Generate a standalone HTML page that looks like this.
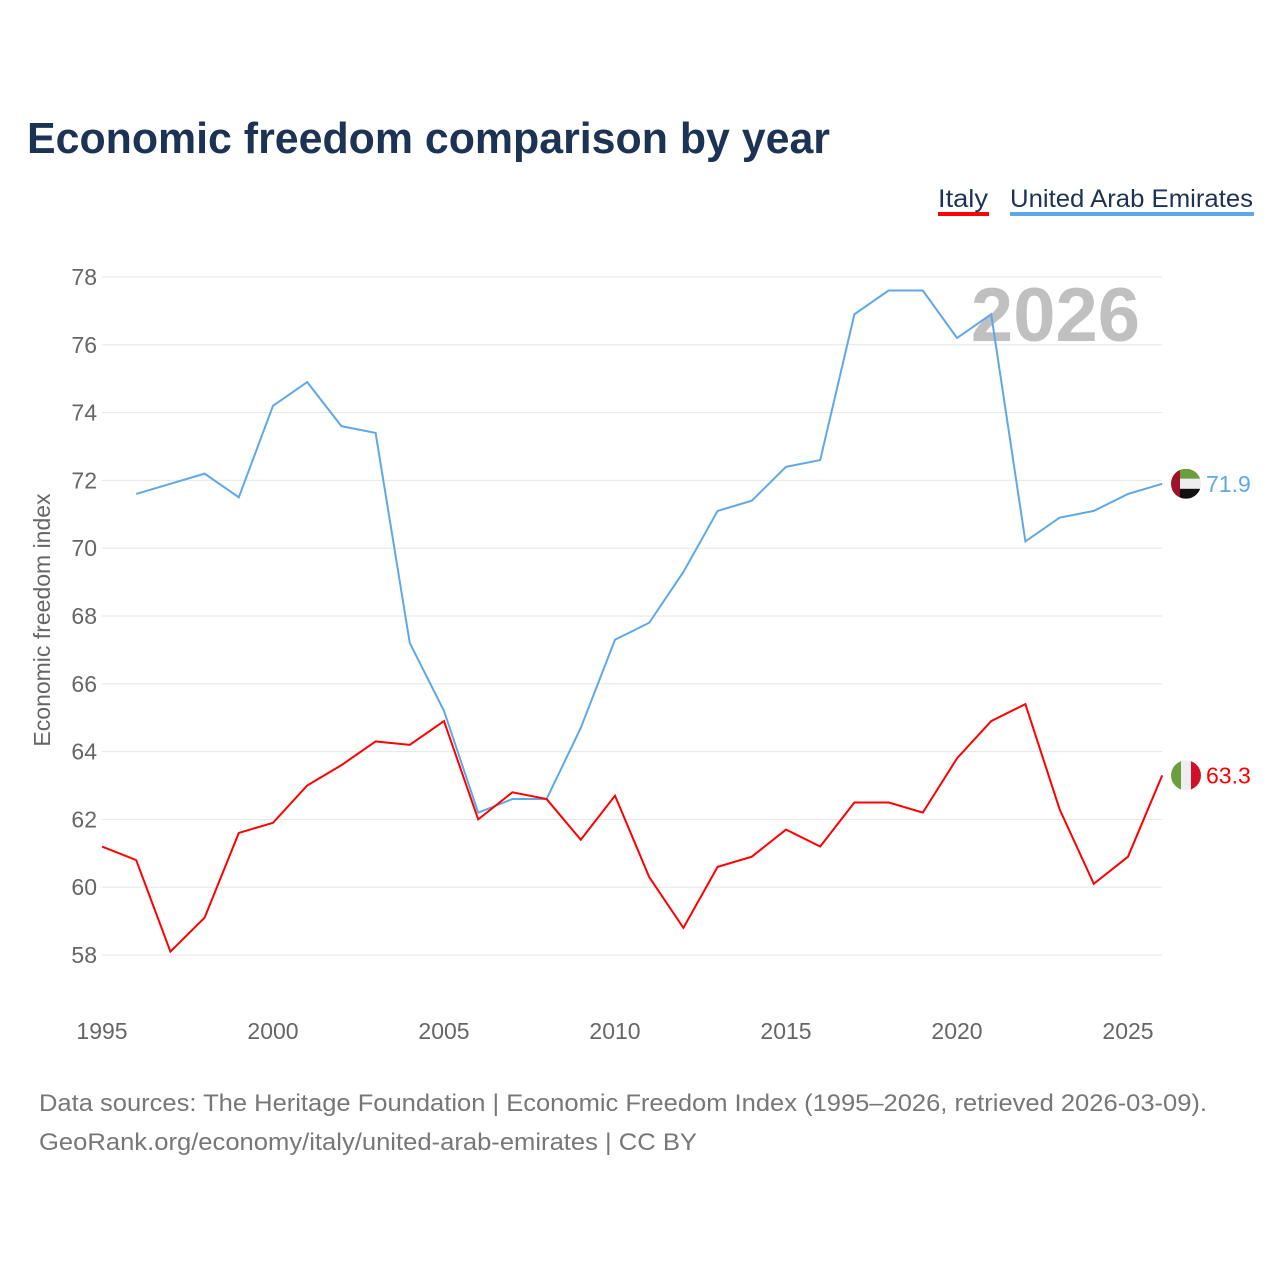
<!DOCTYPE html>
<html><head><meta charset="utf-8"><style>
body{margin:0;background:#fff;width:1280px;height:1280px;overflow:hidden;font-family:"Liberation Sans",sans-serif}
</style></head><body>
<svg id="chart" width="1280" height="1280" xmlns="http://www.w3.org/2000/svg">
<text x="27" y="153" font-size="44" font-weight="bold" fill="#1d3354" textLength="803" lengthAdjust="spacingAndGlyphs">Economic freedom comparison by year</text>
<g><text x="938" y="207" font-size="25" fill="#1d3354" textLength="50" lengthAdjust="spacingAndGlyphs">Italy</text><rect x="938" y="212" width="51" height="4" fill="#f00"/></g>
<g><text x="1010" y="207" font-size="25" fill="#1d3354" textLength="243" lengthAdjust="spacingAndGlyphs">United Arab Emirates</text><rect x="1010" y="212" width="244" height="4" fill="#5fa8e8"/></g>
<text x="1140" y="341" font-size="76" font-weight="bold" fill="#c0c0c0" text-anchor="end">2026</text>
<text transform="translate(50,620) rotate(-90)" font-size="23" fill="#666" text-anchor="middle">Economic freedom index</text>
<g id="grid"></g><g id="series"></g>
<text x="39" y="1111" font-size="24" fill="#777" textLength="1168" lengthAdjust="spacingAndGlyphs">Data sources: The Heritage Foundation | Economic Freedom Index (1995–2026, retrieved 2026-03-09).</text>
<text x="39" y="1150" font-size="24" fill="#777" textLength="658" lengthAdjust="spacingAndGlyphs">GeoRank.org/economy/italy/united-arab-emirates | CC BY</text>
</svg>
<script>
const years=[1995,1996,1997,1998,1999,2000,2001,2002,2003,2004,2005,2006,2007,2008,2009,2010,2011,2012,2013,2014,2015,2016,2017,2018,2019,2020,2021,2022,2023,2024,2025,2026];
const italy=[61.2,60.8,58.1,59.1,61.6,61.9,63.0,63.6,64.3,64.2,64.9,62.0,62.8,62.6,61.4,62.7,60.3,58.8,60.6,60.9,61.7,61.2,62.5,62.5,62.2,63.8,64.9,65.4,62.3,60.1,60.9,63.3];
const uae=[null,71.6,71.9,72.2,71.5,74.2,74.9,73.6,73.4,67.2,65.2,62.2,62.6,62.6,64.7,67.3,67.8,69.3,71.1,71.4,72.4,72.6,76.9,77.6,77.6,76.2,76.9,70.2,70.9,71.1,71.6,71.9];
const yTicks=[58,60,62,64,66,68,70,72,74,76,78];
const xTicks=[1995,2000,2005,2010,2015,2020,2025];
const NS="http://www.w3.org/2000/svg";
const X=y=>102+(y-1995)*34.2;
const Y=v=>277+(78-v)*33.9;
function mk(t,a,p){const e=document.createElementNS(NS,t);for(const k in a)e.setAttribute(k,a[k]);p.appendChild(e);return e;}
const g=document.getElementById('grid'),s=document.getElementById('series');
yTicks.forEach(v=>{
 const l=mk('line',{x1:102,x2:1162,y1:Y(v),y2:Y(v),stroke:'#e6e6e6'},g);
 
 
 const t=mk('text',{x:97,y:Y(v)+8,'font-size':23,fill:'#666','text-anchor':'end'},g);t.textContent=v;
 
 
});
xTicks.forEach(v=>{
 const t=mk('text',{x:X(v),y:1039,'font-size':23,fill:'#666','text-anchor':'middle'},g);t.textContent=v;
 
 
});
function line(data,color,name,flag){
 let d='';data.forEach((v,i)=>{if(v==null)return;d+=(d?'L':'M')+X(years[i])+','+Y(v);});
 const p=mk('path',{d,fill:'none',stroke:color,'stroke-width':2},s);
 
 
 const last=data[data.length-1],cy=Y(last),cx=1186;
 const fg=mk('g',{},s);
 
 
 const cp=mk('clipPath',{id:'c'+name},fg);mk('circle',{cx,cy,r:15},cp);
 const gg=mk('g',{'clip-path':'url(#c'+name+')'},fg);
 if(flag==='it'){mk('rect',{x:cx-15,y:cy-15,width:10,height:30,fill:'#6a9e3f'},gg);mk('rect',{x:cx-5,y:cy-15,width:10,height:30,fill:'#eee'},gg);mk('rect',{x:cx+5,y:cy-15,width:10,height:30,fill:'#d0102a'},gg);}
 else{mk('rect',{x:cx-15,y:cy-15,width:30,height:10,fill:'#6a9e3f'},gg);mk('rect',{x:cx-15,y:cy-5,width:30,height:10,fill:'#eee'},gg);mk('rect',{x:cx-15,y:cy+5,width:30,height:10,fill:'#111'},gg);mk('rect',{x:cx-15,y:cy-15,width:9,height:30,fill:'#a0102a'},gg);}
 const t=mk('text',{x:1206,y:cy+8,'font-size':23,fill:color},s);t.textContent=last.toFixed(1);
 
 
}
line(uae,'#5fa8e8','uae','ae');
line(italy,'#f00','italy','it');
</script>
</body></html>
